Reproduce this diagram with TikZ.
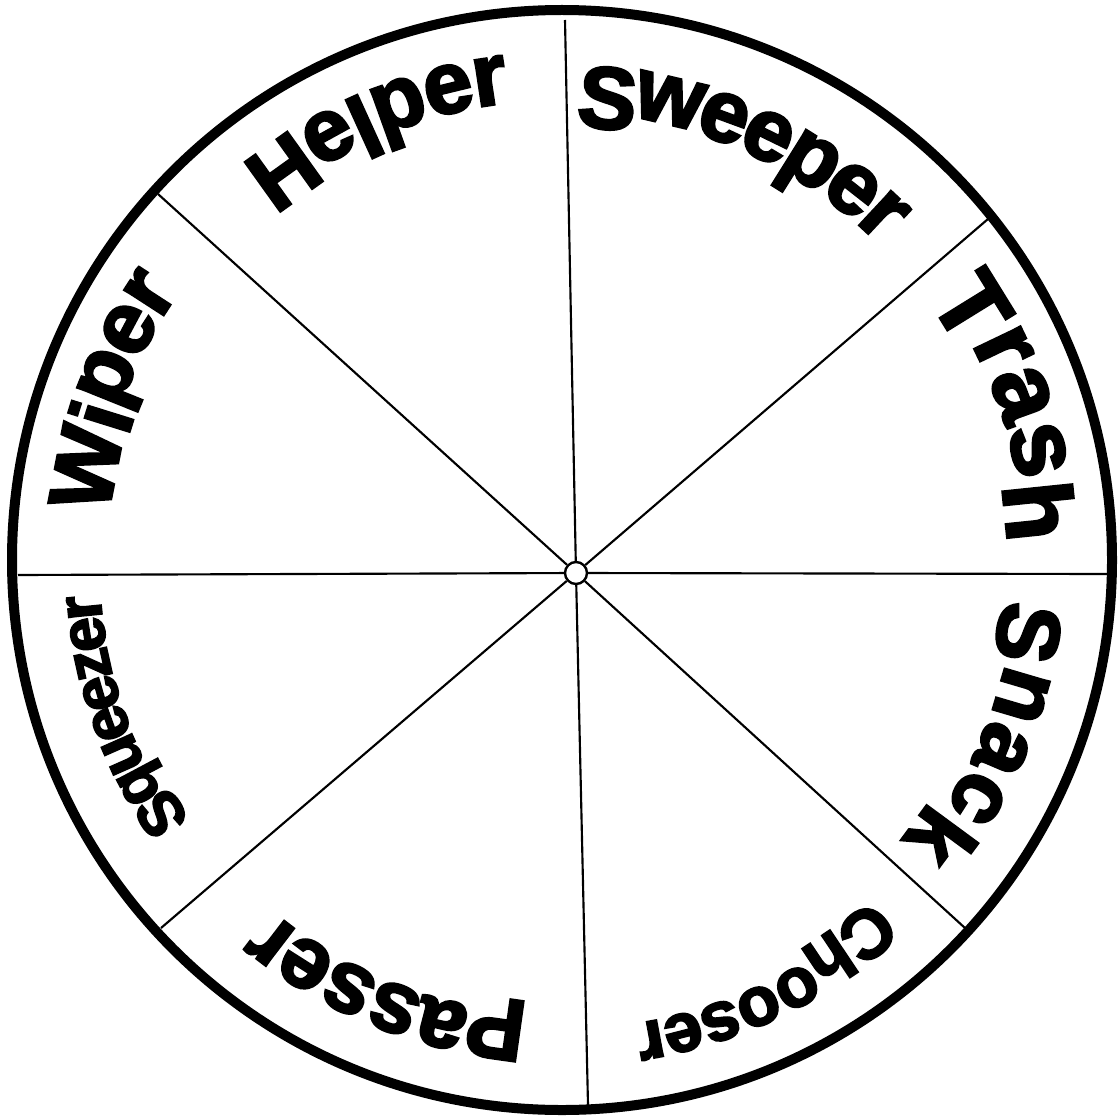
\documentclass[tikz,border=0pt]{standalone}
\usepackage{fontspec}
\setmainfont{Liberation Sans}[BoldFeatures={FakeBold=3}]
\usetikzlibrary{calc}
\tikzset{
  rim/.style={line width=7.5pt},
  spoke/.style={line width=1.6pt},
  hubdot/.style={circle, draw, line width=1.8pt, fill=white, minimum size=16.5pt, inner sep=0pt},
  letter/.style={inner sep=0pt, outer sep=0pt, anchor=north}
}
% #1 name, #2 mid angle, #3 top radius (px), #4 font size (pt), #5 spacing factor, #6 total width (1/1000 em), #7 list letter/width
\newcommand\wheelword[7]{%
  \gdef\cumw{0}%
  \foreach \ch/\w [count=\i] in {#7}{%
    \pgfmathsetmacro\ang{#2+(#6/2-\cumw-\w/2)/1000*#4/0.75*#5/(#3-0.35*#4/0.75)*180/pi}%
    \node[letter, font=\fontsize{#4}{#4}\selectfont\bfseries, rotate=\ang-90]
      (#1-\i) at ($(C)+(\ang:#3)$) {\ch};
    \pgfmathsetmacro\tmpw{\cumw+\w}\xdef\cumw{\tmpw}%
  }%
}
\begin{document}
\begin{tikzpicture}[x=0.75pt, y=0.75pt]
\useasboundingbox (0,0) rectangle (1119,-1120);
\coordinate (C) at (562,-560);
\draw[rim] (C) circle[radius=550];
\node[hubdot] (hub) at (576,-573) {};
\coordinate (eT) at (565,-20);
\coordinate (eTR) at (988,-219);
\coordinate (eR) at (1108,-574);
\coordinate (eBR) at (965,-928);
\coordinate (eB) at (588,-1105);
\coordinate (eBL) at (161,-928);
\coordinate (eL) at (18,-575);
\coordinate (eTL) at (158,-194);
\foreach \e in {eT,eTR,eR,eBR,eB,eBL,eL,eTL} \draw[spoke] (hub) -- (\e);
\wheelword{helper}{113}{508}{66}{1}{3110}{H/722,e/556,l/278,p/611,e/556,r/389}
\wheelword{sweeper}{66.4}{495}{66}{0.96}{4110}{S/667,w/778,e/556,e/556,p/611,e/556,r/389}
\wheelword{trash}{18.8}{515}{72}{1.07}{2723}{T/611,r/389,a/556,s/556,h/611}
\wheelword{snack}{-22.3}{503}{66}{1.1}{2946}{S/667,n/611,a/556,c/556,k/556}
\wheelword{chooser}{-64.4}{507}{52}{1}{4056}{C/722,h/611,o/611,o/611,s/556,e/556,r/389}
\wheelword{passer}{-112}{503}{66}{1}{3280}{P/667,a/556,s/556,s/556,e/556,r/389}
\wheelword{squeezer}{-160.5}{497}{47}{0.9}{4446}{S/667,q/611,u/611,e/556,e/556,z/500,e/556,r/389}
\wheelword{wiper}{159.5}{515}{66}{1}{2778}{W/944,i/278,p/611,e/556,r/389}
\end{tikzpicture}
\end{document}
